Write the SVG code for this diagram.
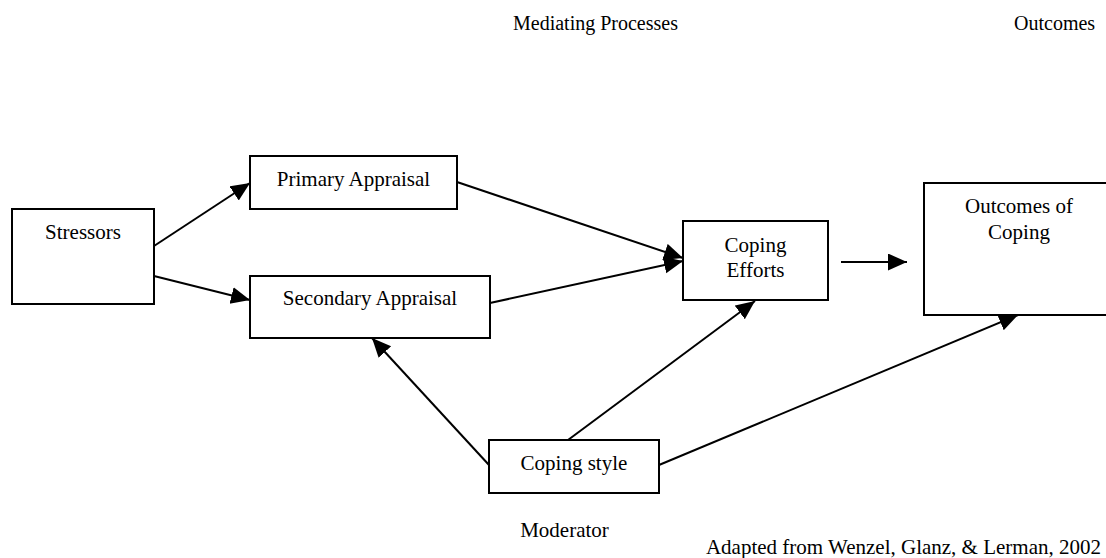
<svg xmlns="http://www.w3.org/2000/svg" width="1106" height="558" viewBox="0 0 1106 558">
  <defs>
    <style>
      .box { fill: #fff; stroke: #000; stroke-width: 2; }
      .lbl { font-size: 21px; fill: #000; }
      .hdr { font-size: 20px; fill: #000; }
      .edge { fill: none; stroke: #000; stroke-width: 2; }
    </style>
    <marker id="arr" markerUnits="userSpaceOnUse" markerWidth="20" markerHeight="18" refX="19" refY="8.5" orient="auto">
      <path d="M0,0 L19,8.5 L0,17 z" fill="#000"/>
    </marker>
  </defs>
  <rect width="1106" height="558" fill="#fff"/>

  <g font-family="'Liberation Serif', 'DejaVu Serif', serif">
  <text class="hdr" x="513" y="30">Mediating Processes</text>
  <text class="hdr" x="1014" y="30">Outcomes</text>

  <g id="connectors">
    <line class="edge" x1="154" y1="246" x2="250" y2="183" marker-end="url(#arr)"/>
    <line class="edge" x1="154" y1="276" x2="250" y2="300" marker-end="url(#arr)"/>
    <line class="edge" x1="457" y1="182" x2="683" y2="258" marker-end="url(#arr)"/>
    <line class="edge" x1="490" y1="303" x2="683" y2="261" marker-end="url(#arr)"/>
    <line class="edge" x1="841" y1="262" x2="907" y2="262" marker-end="url(#arr)"/>
    <line class="edge" x1="489" y1="465" x2="372" y2="338" marker-end="url(#arr)"/>
    <line class="edge" x1="568" y1="440" x2="755" y2="301" marker-end="url(#arr)"/>
    <line class="edge" x1="659" y1="465" x2="1018" y2="315" marker-end="url(#arr)"/>
  </g>

  <g id="stressors">
    <rect class="box" x="12" y="209" width="142" height="95"/>
    <text class="lbl" x="83" y="239" text-anchor="middle">Stressors</text>
  </g>
  <g id="primary-appraisal">
    <rect class="box" x="250" y="156" width="207" height="53"/>
    <text class="lbl" x="353.5" y="186" text-anchor="middle">Primary Appraisal</text>
  </g>
  <g id="secondary-appraisal">
    <rect class="box" x="250" y="276" width="240" height="62"/>
    <text class="lbl" x="370" y="305" text-anchor="middle">Secondary Appraisal</text>
  </g>
  <g id="coping-efforts">
    <rect class="box" x="683" y="221" width="145" height="79"/>
    <text class="lbl" x="755.5" y="252" text-anchor="middle">Coping</text>
    <text class="lbl" x="755.5" y="277" text-anchor="middle">Efforts</text>
  </g>
  <g id="outcomes-of-coping">
    <rect class="box" x="924" y="183" width="200" height="132"/>
    <text class="lbl" x="1019" y="213" text-anchor="middle">Outcomes of</text>
    <text class="lbl" x="1019" y="239" text-anchor="middle">Coping</text>
  </g>
  <g id="coping-style">
    <rect class="box" x="489" y="440" width="170" height="53"/>
    <text class="lbl" x="574" y="470" text-anchor="middle">Coping style</text>
  </g>

  <text class="lbl" x="564.5" y="537" text-anchor="middle">Moderator</text>
  <text class="lbl" x="1101" y="554" text-anchor="end">Adapted from Wenzel, Glanz, &amp; Lerman, 2002</text>
  </g>
</svg>
